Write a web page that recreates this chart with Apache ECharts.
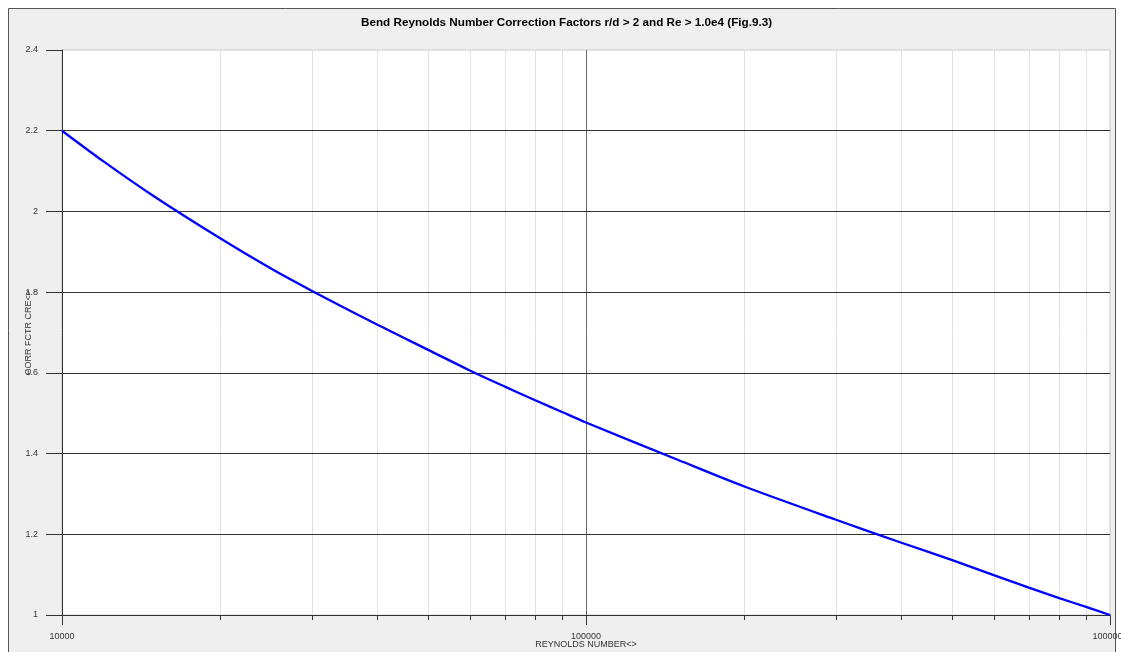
<!DOCTYPE html>
<html>
<head>
<meta charset="utf-8">
<title>Bend Reynolds Number Correction Factors</title>
<script src="https://cdn.jsdelivr.net/npm/echarts@6/dist/echarts.min.js"></script>
<style>
  html, body { margin: 0; padding: 0; background: #ffffff; }
  #chart { width: 1121px; height: 652px; }
</style>
</head>
<body>
<div id="chart"></div>
<script>
// Reynolds number samples along the curve
const RE = [10000, 12000, 15000, 20000, 25000, 30000, 40000, 50000, 60000, 70000, 80000, 90000,
            100000, 150000, 200000, 300000, 400000, 500000, 600000, 700000, 800000, 900000, 1000000];
// Correction factor CRe at each Reynolds number
const CRE = [2.200, 2.124, 2.037, 1.934, 1.859, 1.803, 1.719, 1.657, 1.606, 1.566, 1.532, 1.503,
             1.477, 1.384, 1.319, 1.236, 1.179, 1.136, 1.099, 1.068, 1.042, 1.020, 1.000];
// Intermediate decade values (light grid lines and short ticks)
const MINOR_TICKS = [20000, 30000, 40000, 50000, 60000, 70000, 80000, 90000,
                     200000, 300000, 400000, 500000, 600000, 700000, 800000, 900000];
// Axis ranges
const X_MIN = 10000, X_MAX = 1000000;
const Y_MIN = 1, Y_MAX = 2.4, Y_STEP = 0.2;

const TITLE = 'Bend Reynolds Number Correction Factors r/d > 2 and Re > 1.0e4 (Fig.9.3)';
const X_NAME = 'REYNOLDS NUMBER<>';
const Y_NAME = 'CORR FCTR CRE<>';

const FONT = "'Liberation Sans', Arial, sans-serif";
const chart = echarts.init(document.getElementById('chart'), null, { renderer: 'canvas' });

const option = {
  animation: false,
  backgroundColor: '#ffffff',
  graphic: [{
    type: 'rect',
    z: -10,
    silent: true,
    shape: { x: 8.5, y: 8.5, width: 1107, height: 660 },
    style: { fill: '#efefef', stroke: '#555555', lineWidth: 1 }
  }],
  title: {
    text: TITLE,
    left: 356,
    top: 12,
    textStyle: { fontFamily: FONT, fontSize: 11.7, fontWeight: 'bold', color: '#000000' }
  },
  grid: {
    left: 62, right: 11, top: 50, bottom: 37,
    containLabel: false,
    outerBoundsMode: 'none',
    show: true,
    backgroundColor: '#ffffff',
    borderColor: '#c8c8c8',
    borderWidth: 1
  },
  xAxis: {
    type: 'log',
    logBase: 10,
    min: X_MIN,
    max: X_MAX,
    name: X_NAME,
    nameLocation: 'middle',
    nameGap: 25,
    nameMoveOverlap: false,
    nameTextStyle: { fontFamily: FONT, fontSize: 9, color: '#333333' },
    axisLine: { lineStyle: { color: '#333333', width: 1 } },
    axisTick: { show: true, length: 10, lineStyle: { color: '#333333' } },
    axisLabel: {
      fontFamily: FONT, fontSize: 9, color: '#333333', margin: 17,
      showMinLabel: true, showMaxLabel: true, hideOverlap: false,
      formatter: v => String(Math.round(v))
    },
    splitLine: {
      show: true, showMinLine: false, showMaxLine: false,
      lineStyle: { color: '#6a6a6a', width: 1 }
    }
  },
  yAxis: {
    type: 'value',
    min: Y_MIN,
    max: Y_MAX,
    interval: Y_STEP,
    z: 3,
    name: Y_NAME,
    nameLocation: 'middle',
    nameGap: 29,
    nameMoveOverlap: false,
    nameTextStyle: { fontFamily: FONT, fontSize: 9, color: '#333333' },
    axisLine: { show: true, lineStyle: { color: '#333333', width: 1 } },
    axisTick: { show: true, length: 16, lineStyle: { color: '#333333' } },
    axisLabel: { fontFamily: FONT, fontSize: 9, color: '#333333', margin: 24 },
    splitLine: {
      show: true, showMaxLine: false,
      lineStyle: { color: '#333333', width: 1 }
    }
  },
  series: [
    {
      // light grid lines and short ticks at 2..9 of each decade
      type: 'custom',
      z: 1,
      silent: true,
      clip: false,
      data: MINOR_TICKS.map(v => [v]),
      encode: { x: 0 },
      renderItem: function (params, api) {
        const v = api.value(0);
        const top = api.coord([v, Y_MAX]);
        const bot = api.coord([v, Y_MIN]);
        const x = Math.round(top[0]) + 0.5;
        return {
          type: 'group',
          children: [
            { type: 'line', shape: { x1: x, y1: top[1], x2: x, y2: bot[1] },
              style: { stroke: '#e2e2e2', lineWidth: 1 } },
            { type: 'line', shape: { x1: x, y1: bot[1], x2: x, y2: bot[1] + 5 },
              style: { stroke: '#333333', lineWidth: 1 } }
          ]
        };
      }
    },
    {
      name: 'CRe',
      type: 'line',
      z: 5,
      smooth: 0.3,
      showSymbol: false,
      data: RE.map((r, i) => [r, CRE[i]]),
      lineStyle: { color: '#0000ff', width: 2.3 },
      itemStyle: { color: '#0000ff' }
    }
  ]
};

chart.setOption(option);
</script>
</body>
</html>
